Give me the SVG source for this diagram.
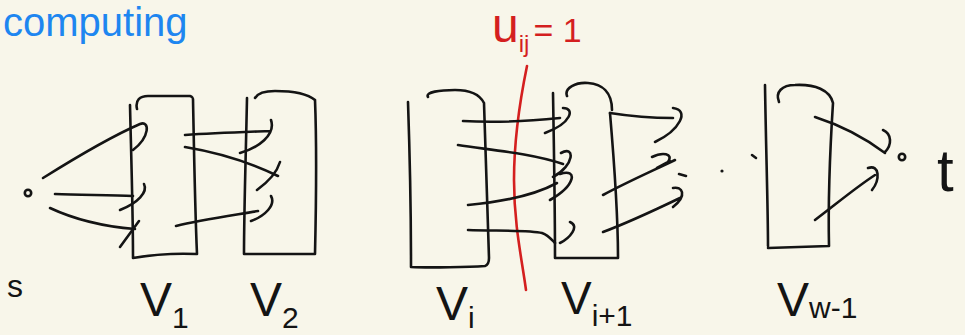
<svg xmlns="http://www.w3.org/2000/svg" width="965" height="335" viewBox="0 0 965 335">
<defs>
<style>
.k{fill:none;stroke:#141414;stroke-width:2.6;stroke-linecap:round;stroke-linejoin:round}
.r{fill:none;stroke:#d41f1f;stroke-width:2.6;stroke-linecap:round}
.lbl{font-family:"Liberation Sans","DejaVu Sans",sans-serif;fill:#141414}
.red{font-family:"Liberation Sans","DejaVu Sans",sans-serif;fill:#d41f1f}
.blue{font-family:"Liberation Sans","DejaVu Sans",sans-serif;fill:#1e86f0}
</style>
</defs>
<rect width="965" height="335" fill="#f8f6ea"/>
<g id="title"><text class="blue" x="3" y="36" font-size="40">computing</text></g>
<g id="s"><circle class="k" cx="28" cy="193" r="3.2"/><text class="lbl" x="7" y="297" font-size="32">s</text></g>
<g id="V1">
<path class="k" d="M130,105 C131,150 133,210 133,258 M133,258 C150,255 175,253 197,254 M193,99 C194,150 195,210 197,254 M137,109 C135,100 140,96 148,96 L190,96 C193,97 193,98 193,100"/>
<text class="lbl" x="140" y="316" font-size="48">V<tspan font-size="30" dy="12">1</tspan></text>
</g>
<g id="V2">
<path class="k" d="M247,98 C246,150 244,210 244,254 M244,254 L315,254 M315,100 C317,150 316,210 315,254 M255,98 C258,93 265,91 275,91 C295,91 308,94 315,100"/>
<text class="lbl" x="250" y="316" font-size="48">V<tspan font-size="30" dy="12">2</tspan></text>
</g>
<g id="Vi">
<path class="k" d="M408,102 C410,160 411,220 411,267 M411,267 C430,268 470,267 485,266 C488,265 489,262 489,258 M484,103 C486,160 487,210 489,258 M428,97 C425,92 440,90 455,90 C470,90 480,95 484,103"/>
<text class="lbl" x="436" y="320" font-size="48">V<tspan font-size="30" dy="8">i</tspan></text>
</g>
<g id="Vi1">
<path class="k" d="M553,93 C554,150 555,210 555,258 M555,258 L618,258 M610,113 C614,160 618,210 618,258 M567,96 C564,88 576,82 588,83 C602,84 612,92 612,110"/>
<text class="lbl" x="561" y="314" font-size="46">V<tspan font-size="30" dy="12">i+1</tspan></text>
</g>
<g id="Vw1">
<path class="k" d="M765,85 C766,150 768,210 768,246 M768,248 L829,246 M833,103 C830,150 828,200 829,246 M779,102 C775,92 782,85 795,85 C815,84 830,90 833,103"/>
<text class="lbl" x="777" y="316" font-size="48">V<tspan font-size="30" dy="2">w-1</tspan></text>
</g>
<g id="t"><circle class="k" cx="902" cy="157" r="3.2"/><text class="lbl" x="937" y="191" font-size="60">t</text></g>
<g id="dots"><circle cx="722" cy="171" r="1.6" fill="#141414"/><path class="k" d="M752,155 L756,158"/></g>
<g id="cut">
<path class="r" d="M527,66 C520,100 514,140 514,180 C514,225 522,260 526,290"/>
<text class="red" x="492" y="42" font-size="48">u<tspan font-size="24" dy="10">ij</tspan><tspan font-size="34" dy="-10" dx="4">= 1</tspan></text>
</g>
<g id="connectors">
<path class="k" d="M43,178 C75,158 110,137 140,124 C150,120 150,137 133,150"/>
<path class="k" d="M55,194 C80,195 110,195 133,196 M120,210 C138,203 148,192 144,184"/>
<path class="k" d="M50,208 C80,222 110,227 135,229 M120,247 L139,221"/>
<path class="k" d="M185,135 C215,133 245,132 270,131 M271,120 C276,135 258,148 240,153"/>
<path class="k" d="M185,147 C215,152 245,160 278,176 M257,190 C268,182 277,172 280,162"/>
<path class="k" d="M176,226 C200,220 235,215 258,211 M271,196 C276,205 265,216 251,221"/>
<path class="k" d="M463,121 C495,123 530,121 560,118 M563,108 C575,108 572,123 545,133"/>
<path class="k" d="M458,145 C490,150 530,153 563,164 M561,153 C575,145 575,165 553,177"/>
<path class="k" d="M468,205 C500,202 535,195 557,183 M560,174 C578,168 576,185 550,200"/>
<path class="k" d="M468,230 C495,231 530,230 542,233 C548,235 552,240 555,243 M560,243 C570,238 580,226 570,222"/>
<path class="k" d="M610,113 C635,117 655,118 673,118 M673,108 C690,110 680,130 655,142"/>
<path class="k" d="M603,195 C625,183 650,172 675,160 M652,157 C662,152 674,153 668,162 M657,168 L670,161"/>
<path class="k" d="M603,232 C630,222 655,210 680,198 M673,188 C682,186 688,195 673,207 M679,174 L686,176"/>
<path class="k" d="M815,117 C840,125 865,138 885,153 M883,130 C892,134 892,145 885,152"/>
<path class="k" d="M815,220 C835,205 855,188 875,175 M868,168 C880,164 880,180 872,190"/>
</g>
</svg>
